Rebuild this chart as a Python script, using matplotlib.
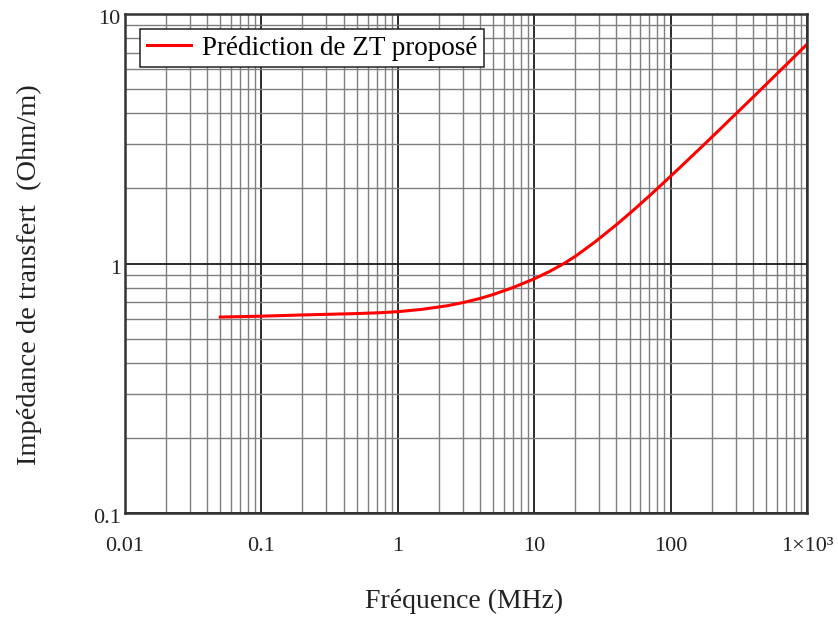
import matplotlib.pyplot as plt
from matplotlib.ticker import LogLocator, NullFormatter, FixedLocator, FixedFormatter
from matplotlib.transforms import ScaledTranslation

# frequency in MHz and transfer impedance in Ohm/m
freq_mhz = [0.05, 0.1, 0.2, 0.5, 0.75, 1, 1.5, 2.3, 3, 4, 5, 7, 10, 13,
            16.7, 20, 28, 40, 55, 70, 100, 130, 170, 220, 300, 400,
            520, 700, 1000]
zt_ohm_m = [0.61, 0.615, 0.622, 0.630, 0.635, 0.641, 0.655, 0.677, 0.697,
            0.724, 0.751, 0.801, 0.868, 0.930, 1.003, 1.068, 1.222, 1.429,
            1.66, 1.868, 2.237, 2.561, 2.944, 3.371, 3.973, 4.627, 5.324,
            6.243, 7.565]

x_ticks = [0.01, 0.1, 1, 10, 100, 1000]
x_tick_labels = ['0.01', '0.1', '1', '10', '100', '1×10³']
y_ticks = [0.1, 1, 10]
y_tick_labels = ['0.1', '1', '10']

plt.rcParams['font.family'] = ['Liberation Serif', 'DejaVu Serif']

fig = plt.figure(figsize=(8.38, 6.19), dpi=100)
ax = fig.add_axes([125 / 838, 106 / 619, 682 / 838, 499 / 619])

ax.plot(freq_mhz, zt_ohm_m, color='#ff0000', lw=2.2, label='Prédiction de ZT proposé')

ax.set_xscale('log')
ax.set_yscale('log')
ax.set_xlim(0.01, 1000)
ax.set_ylim(0.1, 10)

ax.xaxis.set_major_locator(FixedLocator(x_ticks))
ax.xaxis.set_major_formatter(FixedFormatter(x_tick_labels))
ax.yaxis.set_major_locator(FixedLocator(y_ticks))
ax.yaxis.set_major_formatter(FixedFormatter(y_tick_labels))
for axis in (ax.xaxis, ax.yaxis):
    axis.set_minor_locator(LogLocator(base=10, subs=range(2, 10)))
    axis.set_minor_formatter(NullFormatter())

ax.grid(True, which='major', color='#1a1a1a', lw=1.3)
ax.grid(True, which='minor', color='#7f7f7f', lw=1.0)
ax.set_axisbelow(True)

ax.tick_params(which='both', length=0)
ax.tick_params(axis='x', pad=17, labelsize=16, labelcolor='#222222')
ax.tick_params(axis='y', pad=3, labelsize=16, labelcolor='#222222')
# y labels sit a little below their grid line in the reference
shift = ScaledTranslation(0, -3 / 100, fig.dpi_scale_trans)
for lab in ax.get_yticklabels():
    lab.set_verticalalignment('center_baseline')
    lab.set_transform(lab.get_transform() + shift)

for s in ax.spines.values():
    s.set_color('#333333')
    s.set_linewidth(1.8)

# axis titles placed where they sit in the reference
fig.text(464 / 838, 1 - 601 / 619, 'Fréquence (MHz)', fontsize=20,
         ha='center', va='center', color='#222222')
fig.text(29 / 838, 1 - 275 / 619, 'Impédance de transfert  (Ohm/m)', fontsize=20.5,
         rotation=90, ha='center', va='center', color='#222222')

leg = ax.legend(loc='upper left', fontsize=19.5, frameon=True, fancybox=False,
                framealpha=1, edgecolor='#222222', borderpad=0.25,
                handlelength=1.65, handletextpad=0.4, borderaxespad=0.55)
leg.get_frame().set_linewidth(1.1)

fig.savefig('out.png', dpi=100)
